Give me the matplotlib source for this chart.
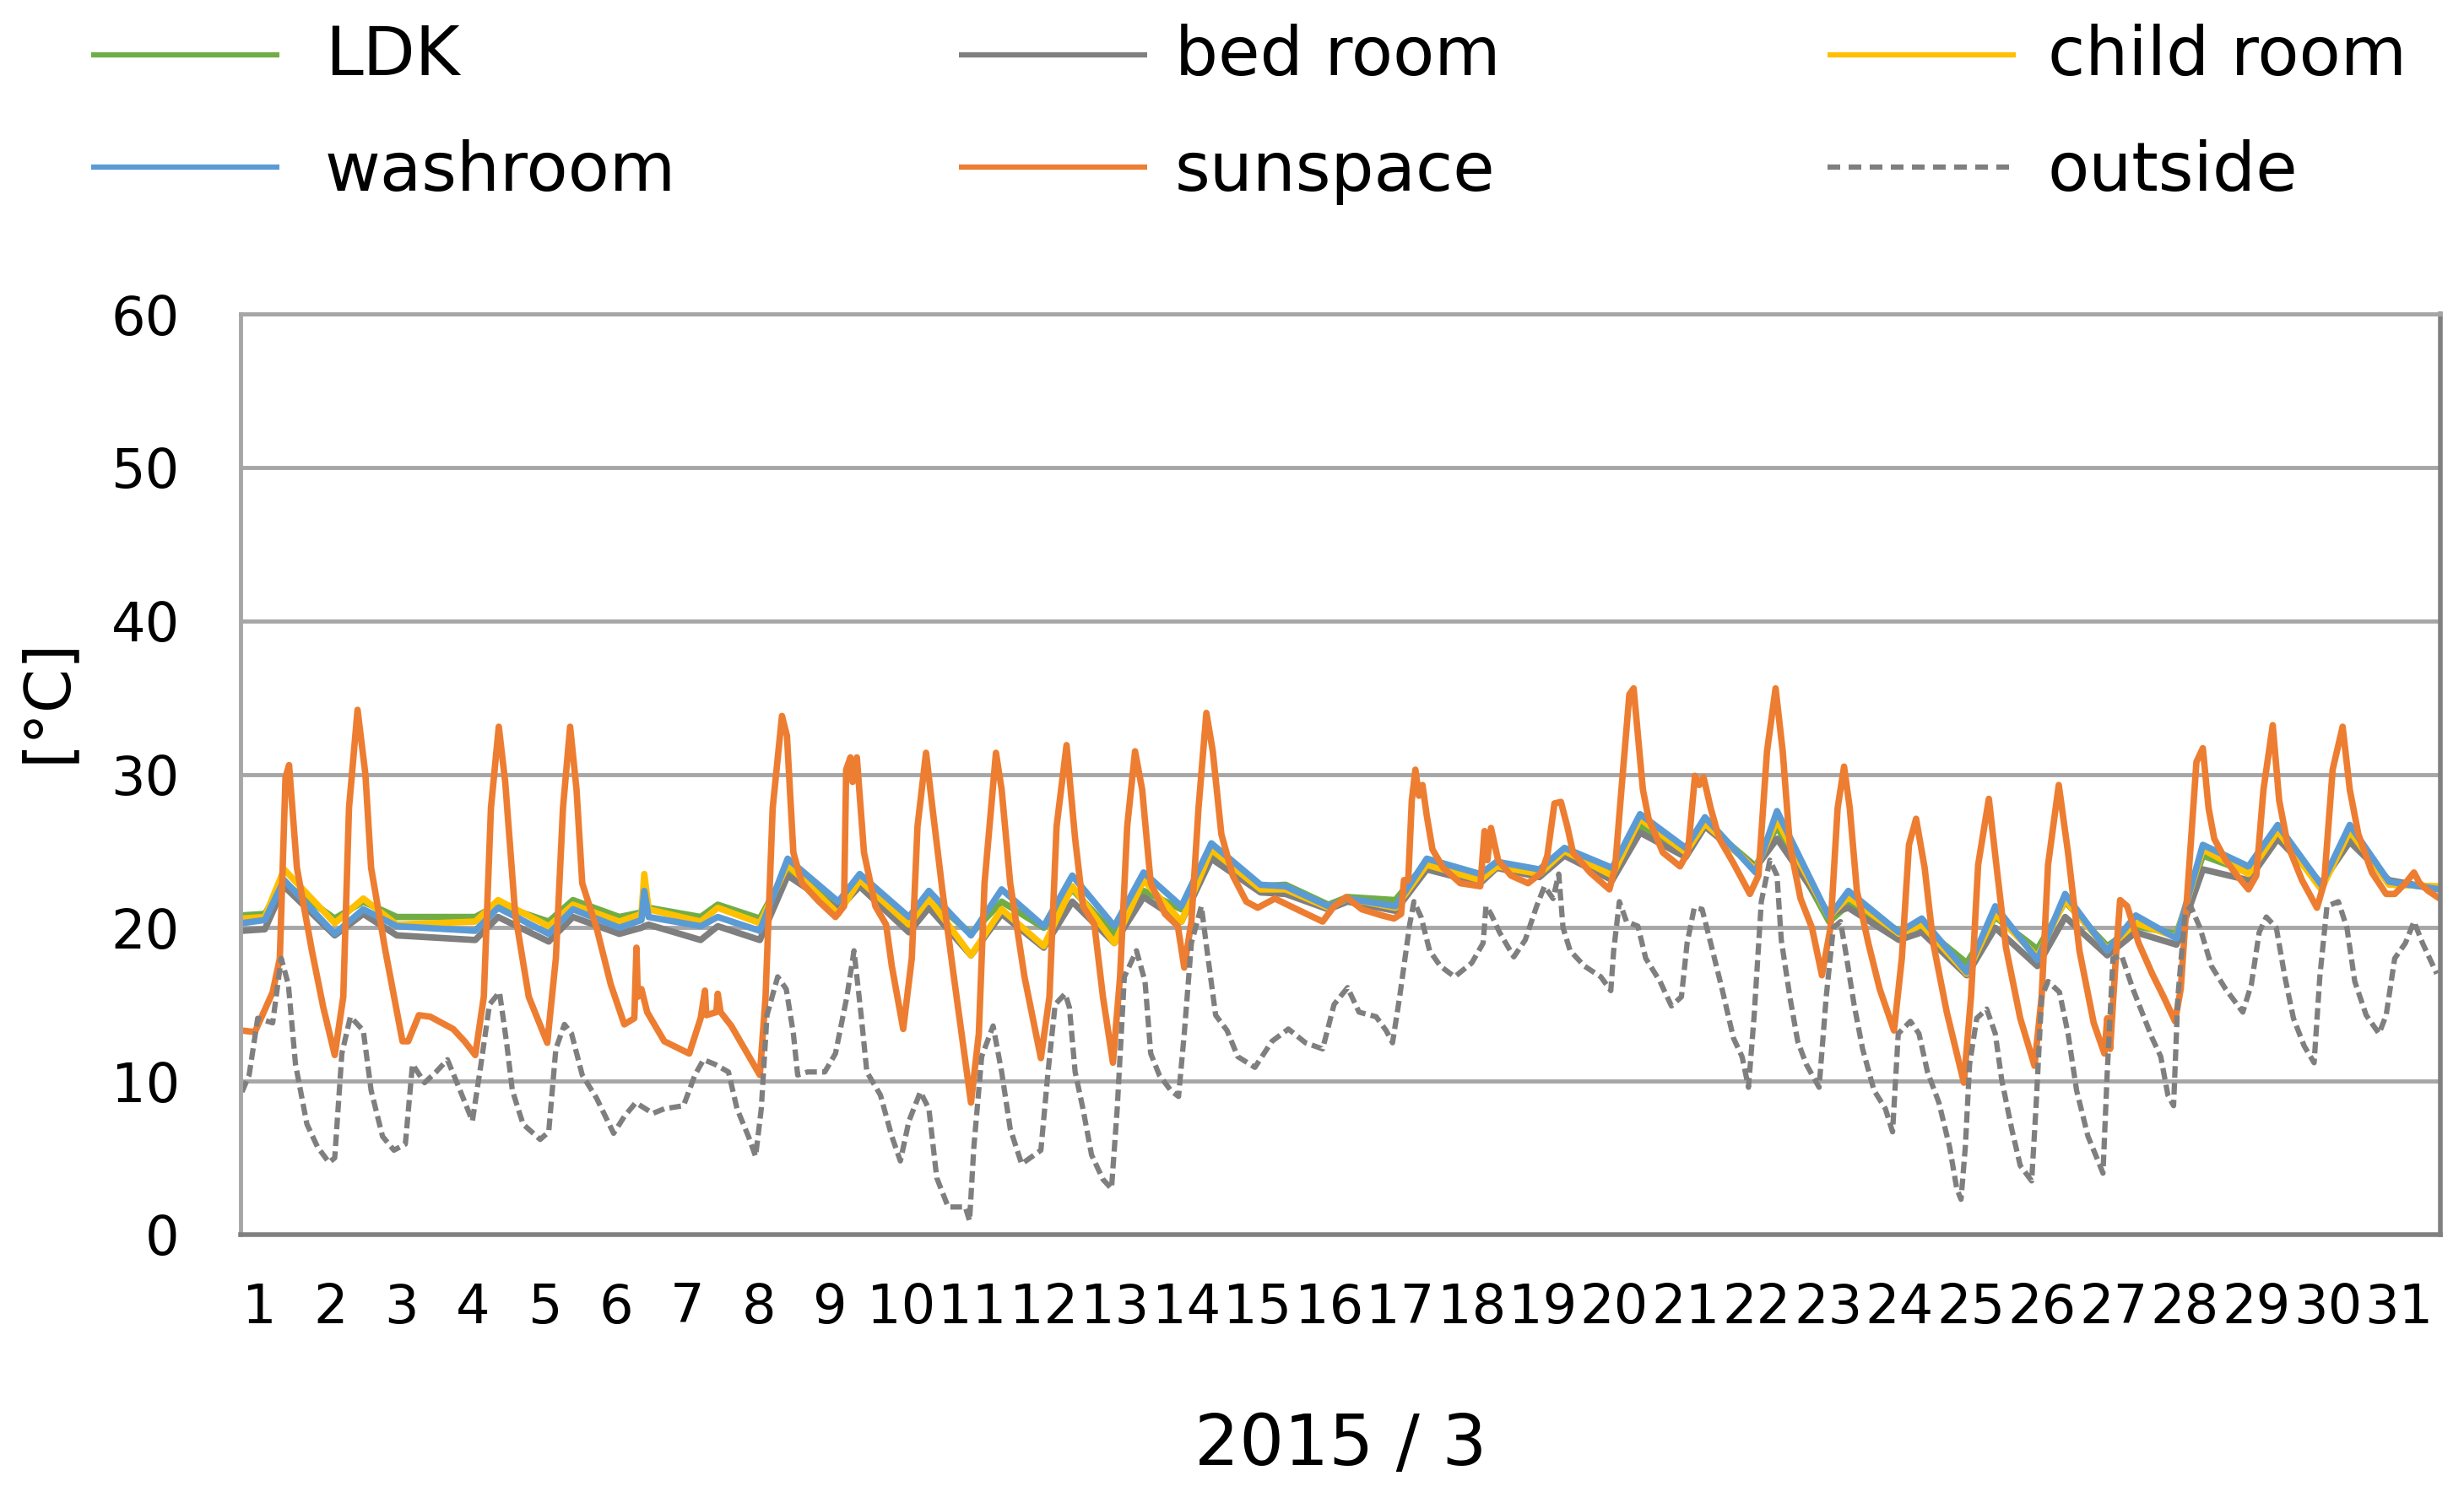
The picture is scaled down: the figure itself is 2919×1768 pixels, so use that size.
import numpy as np
import matplotlib
matplotlib.use("Agg")
import matplotlib.pyplot as plt
from matplotlib.lines import Line2D

# --- data (time in days from the start of the plotted period) ---
room_t = [0.02, 0.34, 0.61, 1.32, 1.72, 2.19, 3.29, 3.61,
          4.32, 4.66, 5.31, 5.62, 5.66, 5.72, 6.45, 6.69, 7.28, 7.67,
          8.38, 8.68, 9.37, 9.65, 10.24, 10.67, 11.26, 11.66,
          12.25, 12.66, 13.19, 13.61, 14.30, 14.65, 15.25,
          15.52, 16.19, 16.63, 17.38, 17.61, 18.21, 18.56, 19.23,
          19.62, 20.26, 20.53, 21.24, 21.54, 22.27, 22.54, 23.25,
          23.57, 24.20, 24.60, 25.19, 25.58, 26.17, 26.57, 27.14,
          27.51, 28.15, 28.56, 29.17, 29.57, 30.12, 30.83]
ldk = [20.8, 20.9, 22.9, 20.6, 21.7, 20.7, 20.7, 21.5,
       20.4, 21.8, 20.7, 21.0, 21.9, 21.3, 20.7, 21.5, 20.6, 23.9,
       21.4, 23.0, 20.6, 22.0, 19.6, 21.7, 20.0, 22.5,
       19.6, 22.4, 21.2, 24.9, 22.7, 22.8, 21.5,
       22.0, 21.8, 24.3, 23.3, 24.0, 23.5, 24.9, 23.5,
       26.6, 25.1, 26.8, 24.0, 26.6, 20.4, 21.5, 19.8,
       20.1, 17.7, 20.7, 18.6, 21.7, 18.8, 20.1, 19.6,
       24.7, 23.6, 26.3, 22.8, 26.0, 22.9, 22.6]
bed_room = [19.8, 19.9, 22.7, 19.5, 20.9, 19.5, 19.2, 20.7,
            19.1, 20.7, 19.6, 20.0, 20.1, 20.2, 19.2, 20.1, 19.2, 23.4,
            21.2, 22.7, 19.7, 21.3, 18.2, 20.9, 18.7, 21.7,
            19.0, 22.0, 20.4, 24.5, 22.3, 22.2, 21.2,
            21.7, 21.1, 23.8, 22.9, 23.9, 23.3, 24.7, 23.1,
            26.2, 24.6, 26.6, 23.9, 25.8, 20.9, 21.3, 19.2,
            19.7, 16.9, 20.0, 17.5, 20.7, 18.2, 19.7, 18.9,
            23.8, 23.1, 25.8, 22.9, 25.6, 23.1, 22.5]
child_room = [20.6, 20.7, 23.8, 20.3, 21.9, 20.2, 20.4, 21.8,
              20.1, 21.5, 20.4, 20.9, 23.5, 21.2, 20.4, 21.3, 20.3, 24.1,
              20.9, 23.1, 20.2, 21.9, 18.2, 21.2, 18.8, 22.7,
              19.0, 23.1, 20.4, 25.1, 22.5, 22.5, 21.3,
              21.9, 21.3, 24.1, 23.1, 24.0, 23.5, 25.0, 23.4,
              27.1, 24.9, 26.8, 23.8, 27.0, 20.7, 22.0, 19.6,
              20.2, 17.0, 20.9, 18.1, 21.8, 18.6, 20.3, 19.4,
              25.1, 23.5, 26.3, 22.5, 26.3, 22.8, 22.7]
washroom = [20.3, 20.5, 23.1, 19.6, 21.2, 20.1, 19.8, 21.3,
            19.6, 21.2, 20.0, 20.5, 22.4, 20.7, 20.1, 20.7, 19.8, 24.5,
            21.7, 23.5, 20.7, 22.4, 19.5, 22.5, 20.1, 23.4,
            20.1, 23.6, 21.4, 25.5, 22.8, 22.7, 21.4,
            21.9, 21.4, 24.5, 23.5, 24.3, 23.8, 25.2, 23.9,
            27.4, 25.2, 27.2, 23.6, 27.6, 20.7, 22.4, 19.7,
            20.6, 17.1, 21.4, 17.9, 22.2, 18.5, 20.8, 19.3,
            25.4, 24.0, 26.7, 22.8, 26.7, 23.0, 22.5]

sun_t = [0.02, 0.20, 0.45, 0.55, 0.63, 0.68, 0.79, 1.00, 1.16, 1.32, 1.44, 1.52, 1.64, 1.75, 1.83,
         2.03, 2.27, 2.35, 2.50, 2.66, 2.98, 3.14, 3.29, 3.41, 3.51, 3.62, 3.71, 3.85, 4.04,
         4.30, 4.42, 4.52, 4.62, 4.71, 4.79, 4.99, 5.19, 5.38, 5.52, 5.55, 5.57, 5.62, 5.70,
         5.94, 6.29, 6.45, 6.51, 6.53, 6.67, 6.69, 6.73, 6.88, 7.28, 7.36, 7.46, 7.59, 7.66,
         7.75, 7.87, 8.11, 8.34, 8.46, 8.49, 8.55, 8.58, 8.64, 8.74, 8.90, 9.05, 9.13, 9.29,
         9.41, 9.49, 9.61, 9.70, 9.84, 10.00, 10.24, 10.35, 10.43, 10.59, 10.67, 10.79, 10.99,
         11.22, 11.34, 11.44, 11.58, 11.70, 11.81, 11.97, 12.09, 12.23, 12.33, 12.43, 12.54,
         12.64, 12.76, 12.96, 13.14, 13.23, 13.33, 13.43, 13.54, 13.63, 13.75, 13.91, 14.10,
         14.26, 14.50, 14.81, 15.17, 15.33, 15.50, 15.72, 16.00, 16.17, 16.27, 16.31, 16.37,
         16.42, 16.47, 16.52, 16.57, 16.63, 16.71, 16.86, 17.10, 17.38, 17.44, 17.48, 17.53,
         17.63, 17.81, 18.05, 18.24, 18.32, 18.42, 18.51, 18.60, 18.68, 18.92, 19.19, 19.27,
         19.35, 19.47, 19.53, 19.66, 19.74, 19.94, 20.18, 20.29, 20.39, 20.45, 20.51, 20.61,
         20.73, 20.93, 21.16, 21.28, 21.40, 21.52, 21.62, 21.72, 21.87, 22.03, 22.17, 22.29,
         22.39, 22.48, 22.56, 22.66, 22.82, 22.98, 23.18, 23.29, 23.39, 23.49, 23.61, 23.73,
         23.92, 24.16, 24.26, 24.36, 24.51, 24.62, 24.75, 24.95, 25.15, 25.25, 25.34, 25.49,
         25.62, 25.78, 25.98, 26.13, 26.17, 26.21, 26.29, 26.35, 26.45, 26.61, 26.80, 26.96,
         27.12, 27.20, 27.32, 27.42, 27.51, 27.59, 27.67, 27.83, 27.99, 28.15, 28.26, 28.36,
         28.49, 28.58, 28.70, 28.90, 29.11, 29.21, 29.33, 29.47, 29.57, 29.69, 29.88, 30.08,
         30.20, 30.35, 30.47, 30.55, 30.67, 30.83]
sunspace = [13.3, 13.2, 15.8, 18.0, 29.8, 30.6, 23.9, 18.5, 14.8, 11.7, 15.5, 27.8, 34.2, 30.0, 23.9,
            18.5, 12.6, 12.6, 14.3, 14.2, 13.4, 12.6, 11.7, 15.5, 27.8, 33.1, 29.5, 20.9, 15.5,
            12.5, 18.0, 27.8, 33.1, 29.0, 22.9, 20.0, 16.3, 13.7, 14.1, 18.7, 15.5, 16.0, 14.5,
            12.6, 11.8, 14.1, 15.9, 14.3, 14.5, 15.7, 14.5, 13.6, 10.4, 15.5, 27.8, 33.8, 32.5,
            24.9, 22.9, 21.7, 20.7, 21.4, 30.3, 31.1, 29.5, 31.1, 24.9, 21.4, 20.2, 17.5, 13.4,
            18.0, 26.6, 31.4, 27.8, 22.4, 16.8, 8.6, 13.1, 22.9, 31.4, 29.0, 22.9, 16.8,
            11.5, 15.5, 26.6, 31.9, 25.8, 21.4, 20.2, 15.5, 11.2, 16.8, 26.6, 31.5,
            29.0, 22.9, 20.9, 20.1, 17.4, 20.4, 27.8, 34.0, 31.5, 26.1, 23.4, 21.7,
            21.3, 21.9, 21.2, 20.4, 21.4, 22.0, 21.2, 20.8, 20.6, 20.9, 23.1, 23.1,
            28.3, 30.3, 28.6, 29.3, 27.3, 25.1, 23.9, 22.9, 22.7, 26.3, 24.4, 26.5,
            24.4, 23.4, 22.9, 23.6, 24.7, 28.1, 28.2, 26.6, 24.9, 23.6, 22.5, 23.9,
            28.5, 35.2, 35.6, 29.0, 27.1, 24.9, 24.0, 24.9, 29.9, 29.3, 29.8, 27.8,
            25.8, 24.2, 22.2, 23.4, 31.5, 35.6, 31.5, 25.4, 21.9, 20.0, 16.9, 20.0,
            27.8, 30.5, 27.8, 22.4, 19.0, 16.0, 13.3, 18.0, 25.4, 27.1, 23.9, 19.0,
            14.5, 9.9, 15.5, 24.1, 28.4, 23.9, 18.7, 14.1, 11.0, 15.5, 24.1, 29.3,
            24.9, 18.5, 13.8, 11.8, 14.1, 12.1, 18.0, 21.8, 21.4, 19.0, 17.0, 15.5,
            13.9, 16.0, 24.1, 30.8, 31.7, 27.8, 25.8, 24.4, 23.4, 22.5, 23.4, 29.0,
            33.2, 28.3, 25.4, 23.1, 21.3, 22.9, 30.3, 33.1, 29.0, 26.1, 23.6, 22.2,
            22.2, 22.9, 23.6, 22.9, 22.4, 21.9]

out_t = [0.02, 0.12, 0.24, 0.45, 0.57, 0.67, 0.77, 0.93, 1.08, 1.24, 1.32, 1.42, 1.54, 1.72, 1.83,
         1.99, 2.15, 2.31, 2.41, 2.58, 2.74, 2.90, 3.06, 3.25, 3.37, 3.49, 3.63, 3.73, 3.81,
         3.96, 4.20, 4.32, 4.42, 4.54, 4.64, 4.79, 4.99, 5.23, 5.38, 5.54, 5.78, 5.94, 6.21,
         6.37, 6.49, 6.65, 6.84, 6.96, 7.12, 7.22, 7.30, 7.38, 7.53, 7.65, 7.75, 7.81, 7.95,
         8.19, 8.34, 8.50, 8.60, 8.70, 8.78, 8.97, 9.13, 9.25, 9.37, 9.53, 9.65, 9.76, 9.92,
         10.16, 10.22, 10.28, 10.39, 10.55, 10.67, 10.79, 10.95, 11.22, 11.32, 11.42, 11.56,
         11.62, 11.70, 11.81, 11.93, 12.09, 12.21, 12.29, 12.39, 12.56, 12.68, 12.76, 12.88,
         13.04, 13.15, 13.23, 13.33, 13.47, 13.55, 13.67, 13.83, 13.98, 14.22, 14.46, 14.69,
         14.93, 15.17, 15.33, 15.52, 15.68, 15.92, 16.06, 16.15, 16.25, 16.33, 16.39, 16.45,
         16.55, 16.67, 16.82, 17.02, 17.26, 17.42, 17.46, 17.53, 17.65, 17.85, 18.01, 18.17,
         18.28, 18.40, 18.48, 18.54, 18.64, 18.84, 19.07, 19.21, 19.25, 19.33, 19.43, 19.59,
         19.70, 19.90, 20.06, 20.20, 20.28, 20.38, 20.49, 20.61, 20.77, 20.93, 21.05, 21.14,
         21.22, 21.32, 21.44, 21.54, 21.60, 21.72, 21.83, 21.95, 22.13, 22.23, 22.33, 22.43,
         22.50, 22.62, 22.74, 22.90, 23.06, 23.16, 23.24, 23.41, 23.53, 23.65, 23.81, 23.96,
         24.06, 24.12, 24.18, 24.24, 24.34, 24.48, 24.60, 24.69, 24.83, 24.95, 25.11, 25.17,
         25.25, 25.34, 25.50, 25.62, 25.74, 25.90, 26.05, 26.11, 26.17, 26.25, 26.37, 26.53,
         26.69, 26.80, 26.92, 27.02, 27.10, 27.16, 27.26, 27.34, 27.47, 27.63, 27.83, 28.07,
         28.19, 28.30, 28.40, 28.54, 28.66, 28.78, 28.93, 29.07, 29.15, 29.25, 29.41, 29.53,
         29.64, 29.80, 29.98, 30.08, 30.20, 30.35, 30.47, 30.59, 30.79]
outside = [9.3, 10.4, 14.1, 13.8, 18.0, 16.3, 11.1, 7.2, 5.7, 4.7, 5.0, 11.8, 14.2, 13.3, 9.4,
           6.4, 5.5, 5.9, 11.1, 9.9, 10.6, 11.4, 9.6, 7.4, 11.1, 15.0, 15.8, 12.5, 9.4,
           7.2, 6.2, 6.7, 12.1, 13.7, 13.1, 10.4, 8.9, 6.6, 7.7, 8.6, 7.9, 8.2, 8.4,
           10.4, 11.4, 11.1, 10.6, 8.2, 6.4, 5.1, 8.2, 14.3, 16.8, 16.0, 13.1, 10.4, 10.6,
           10.6, 11.8, 15.5, 18.5, 14.3, 10.6, 9.1, 6.4, 4.8, 7.4, 9.3, 8.2, 3.7, 1.8,
           1.8, 0.9, 5.7, 11.6, 13.6, 10.6, 6.9, 4.6, 5.5, 10.6, 15.0, 15.7,
           14.8, 10.6, 8.2, 5.2, 3.6, 3.0, 8.2, 16.8, 18.5, 16.5, 11.8, 10.4,
           9.4, 9.0, 13.1, 19.0, 21.4, 18.5, 14.3, 13.3, 11.6, 10.9, 12.6, 13.4,
           12.5, 12.1, 15.0, 16.1, 14.5, 14.2, 13.3, 12.5, 15.5, 18.2, 20.2, 21.7,
           20.7, 18.5, 17.5, 16.8, 17.7, 19.0, 21.4, 20.9, 19.7, 18.1, 19.2, 21.4,
           22.7, 21.9, 23.5, 20.0, 18.5, 17.5, 16.8, 15.9, 18.5, 21.7, 20.4, 20.1,
           18.0, 16.5, 14.9, 15.5, 19.0, 21.3, 21.2, 19.0, 16.0, 12.8, 11.6, 9.6,
           14.3, 21.7, 24.4, 23.4, 19.2, 15.5, 12.6, 11.1, 9.6, 15.5, 20.0, 20.4,
           18.5, 15.0, 12.1, 9.4, 8.2, 6.7, 13.1, 13.9, 13.1, 10.6, 8.6, 5.7,
           3.0, 2.3, 5.7, 11.1, 14.1, 14.7, 13.1, 10.1, 6.9, 4.5, 3.5, 8.2,
           15.5, 16.5, 15.8, 13.1, 9.4, 6.4, 4.7, 4.0, 10.6, 18.0, 18.2, 16.0,
           14.1, 12.8, 11.6, 9.1, 8.4, 15.5, 20.9, 21.4, 20.0, 17.5, 16.0, 14.5,
           16.3, 19.7, 20.7, 20.0, 16.8, 14.1, 12.3, 11.2, 16.8, 21.4, 21.7, 20.0,
           16.5, 14.3, 13.1, 14.3, 18.0, 19.0, 20.4, 19.0, 17.0]

day_labels = [str(d) for d in range(1, 32)]

series = [
    ("LDK", room_t, ldk, "#70AD47", "-"),
    ("bed room", room_t, bed_room, "#7F7F7F", "-"),
    ("child room", room_t, child_room, "#FFC000", "-"),
    ("washroom", room_t, washroom, "#5B9BD5", "-"),
    ("sunspace", sun_t, sunspace, "#ED7D31", "-"),
    ("outside", out_t, outside, "#7F7F7F", "--"),
]

W, H = 2919, 1768
fig = plt.figure(figsize=(W / 100, H / 100), dpi=100)
ax = fig.add_axes([285 / W, 1 - 1463 / H, (2891 - 285) / W, (1463 - 372) / H])

lines = {}
for name, t, v, color, ls in series:
    ln, = ax.plot(t, v, color=color, lw=5.5, linestyle=ls, solid_joinstyle="round",
                  solid_capstyle="round", dash_joinstyle="round")
    if ls == "--":
        ln.set_linewidth(4.5)
        ln.set_dashes((2.2, 1.0))
    lines[name] = ln

ax.set_xlim(0, 30.84)
ax.set_ylim(0, 60)
ax.set_yticks(np.arange(0, 61, 10))
ax.set_xticks(np.arange(31) + 0.26)
ax.set_xticklabels(day_labels)
ax.tick_params(axis="both", length=0, labelsize=46)
ax.tick_params(axis="y", pad=52)
ax.tick_params(axis="x", pad=40)
ax.grid(axis="y", color="#A6A6A6", lw=3.5)
ax.set_axisbelow(True)
for side in ["left", "top"]:
    ax.spines[side].set_color("#A6A6A6")
    ax.spines[side].set_linewidth(3.5)
for side in ["bottom", "right"]:
    ax.spines[side].set_color("#808080")
    ax.spines[side].set_linewidth(4)

fig.text(1588 / W, 1 - 1712 / H, "2015 / 3", ha="center", va="center", fontsize=60)
fig.text(56 / W, 1 - 830 / H, "[\u00b0C]", ha="center", va="center", fontsize=54,
         rotation=90)

# legend drawn by hand: 3 columns, 2 rows
leg_rows = [["LDK", "bed room", "child room"], ["washroom", "sunspace", "outside"]]
line_x = [(108, 331), (1136, 1359), (2165, 2388)]
text_x = [385, 1392, 2426]
row_line_y = [65, 198]
row_base_y = [89, 226]
for r, row in enumerate(leg_rows):
    for c, name in enumerate(row):
        src = lines[name]
        x0, x1 = line_x[c]
        yl = 1 - row_line_y[r] / H
        lg = Line2D([x0 / W, x1 / W], [yl, yl], transform=fig.transFigure,
                    color=src.get_color(), lw=4.5, solid_capstyle="butt")
        if name == "outside":
            lg.set_linestyle("--")
            lg.set_dashes((2.4, 1.6))
        fig.add_artist(lg)
        fig.text(text_x[c] / W, 1 - row_base_y[r] / H, name, ha="left",
                 va="baseline", fontsize=58)

fig.savefig("out.png", dpi=100, facecolor="white")
